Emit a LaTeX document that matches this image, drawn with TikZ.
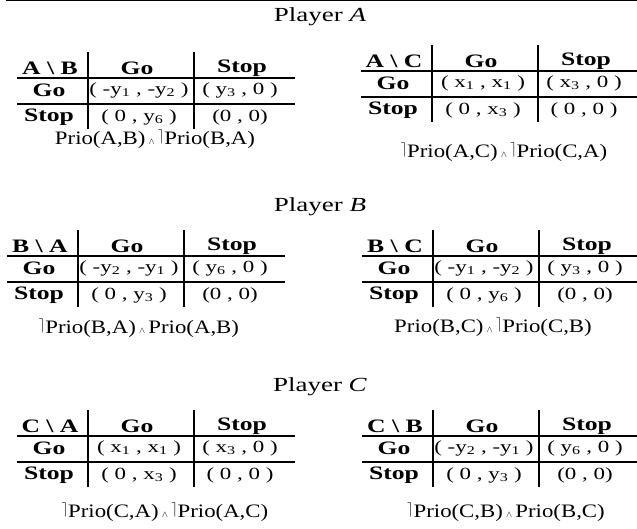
\documentclass[tikz,border=0pt]{standalone}
\usepackage{fontspec}
\setmainfont{Liberation Serif}[FakeStretch=1.2]
\newfontfamily\widefont{Liberation Serif}[FakeStretch=1.35]

\tikzset{
  rule/.style={line width=1.6pt},
  title/.style={font=\widefont\fontsize{20}{24}\selectfont},
  head/.style={font=\widefont\fontsize{19}{22}\selectfont\bfseries},
  cell/.style={font=\widefont\fontsize{17}{20}\selectfont},
  caption/.style={font=\fontsize{19}{22}\selectfont},
}

\newcommand{\notsym}{\raisebox{0.5ex}{$\scriptstyle\rceil$}}
\newcommand{\andsym}{\,{$\scriptscriptstyle\wedge$}\,}

% payoff table: name, left x, top y, corner, go/go, go/stop, stop/go, stop/stop
\newcommand{\payoff}[8]{%
  \coordinate (#1-nw) at (#2,#3);
  \draw[rule] (#2,#3+26) -- (#2+278,#3+26);
  \draw[rule] (#2,#3+52) -- (#2+278,#3+52);
  \draw[rule] (#2+71,#3) -- (#2+71,#3+77);
  \draw[rule] (#2+177,#3) -- (#2+177,#3+77);
  % header row
  \node[head] (#1-corner) at (#2+33,#3+16) {#4};
  \node[head] (#1-go) at (#2+120,#3+16) {Go};
  \node[head] (#1-stop) at (#2+225,#3+16) {Stop};
  % go row
  \node[head] (#1-rgo) at (#2+32,#3+38) {Go};
  \node[cell] (#1-gg) at (#2+122,#3+38) {#5};
  \node[cell] (#1-gs) at (#2+223,#3+38) {#6};
  % stop row
  \node[head] (#1-rstop) at (#2+32,#3+65) {Stop};
  \node[cell] (#1-sg) at (#2+122,#3+65) {#7};
  \node[cell] (#1-ss) at (#2+223,#3+65) {#8};
}

\begin{document}
\begin{tikzpicture}[x=1pt,y=-1pt]
    \useasboundingbox (0,0) rectangle (637,528);
    \draw[line width=1pt] (6,0.5) -- (637,0.5);

    % Player A
    \node[title] (titleA) at (320,17) {Player \textit{A}};
    \payoff{ab}{17}{52}{A \textbackslash{} B}
      {( -y\textsubscript{1} , -y\textsubscript{2} )}{( y\textsubscript{3} , 0 )}
      {( 0 , y\textsubscript{6} )}{(0 , 0)}
    \node[caption] (capab) at (155,139) {Prio(A,B)\andsym\notsym Prio(B,A)};
    \payoff{ac}{361}{45}{A \textbackslash{} C}
      {( x\textsubscript{1} , x\textsubscript{1} )}{( x\textsubscript{3} , 0 )}
      {( 0 , x\textsubscript{3} )}{( 0 , 0 )}
    \node[caption] (capac) at (504,152) {\notsym Prio(A,C)\andsym\notsym Prio(C,A)};

    % Player B
    \node[title] (titleB) at (320,207) {Player \textit{B}};
    \payoff{ba}{7}{230}{B \textbackslash{} A}
      {( -y\textsubscript{2} , -y\textsubscript{1} )}{( y\textsubscript{6} , 0 )}
      {( 0 , y\textsubscript{3} )}{(0 , 0)}
    \node[caption] (capba) at (139,328) {\notsym Prio(B,A)\andsym Prio(A,B)};
    \payoff{bc}{362}{230}{B \textbackslash{} C}
      {( -y\textsubscript{1} , -y\textsubscript{2} )}{( y\textsubscript{3} , 0 )}
      {( 0 , y\textsubscript{6} )}{(0 , 0)}
    \node[caption] (capbc) at (493,327) {Prio(B,C)\andsym\notsym Prio(C,B)};

    % Player C
    \node[title] (titleC) at (320,387) {Player \textit{C}};
    \payoff{ca}{17}{410}{C \textbackslash{} A}
      {( x\textsubscript{1} , x\textsubscript{1} )}{( x\textsubscript{3} , 0 )}
      {( 0 , x\textsubscript{3} )}{( 0 , 0 )}
    \node[caption] (capca) at (165,512) {\notsym Prio(C,A)\andsym\notsym Prio(A,C)};
    \payoff{cb}{362}{410}{C \textbackslash{} B}
      {( -y\textsubscript{2} , -y\textsubscript{1} )}{( y\textsubscript{6} , 0 )}
      {( 0 , y\textsubscript{3} )}{(0 , 0)}
    \node[caption] (capcb) at (506,512) {\notsym Prio(C,B)\andsym Prio(B,C)};
\end{tikzpicture}
\end{document}
